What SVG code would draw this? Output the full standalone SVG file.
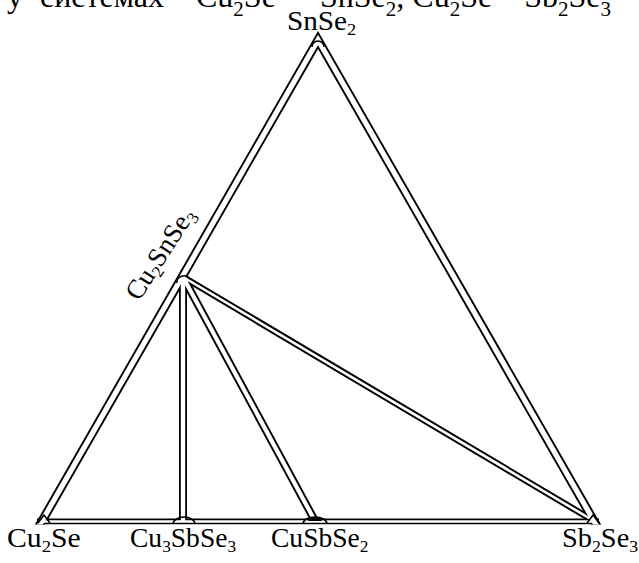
<svg xmlns="http://www.w3.org/2000/svg" width="639" height="563" viewBox="0 0 639 563">
<style>
.o{stroke:#000;fill:none;stroke-linecap:butt;stroke-linejoin:miter}
.i{stroke:#fff;fill:none;stroke-linecap:butt;stroke-linejoin:miter}
.m{stroke:#000;stroke-width:1.6;fill:none}
text{font-family:"Liberation Serif","Times New Roman",serif;fill:#000;font-size:27px}
.s{font-size:17px}
.t{font-size:32px}
.ts{font-size:21px}
</style>
<defs>
<clipPath id="c"><rect x="0" y="0" width="639" height="524.5"/></clipPath>
</defs>
<rect width="639" height="563" fill="#fff"/>
<text class="t" y="7"><tspan x="7">у</tspan><tspan x="40">системах</tspan><tspan x="196">Cu</tspan><tspan class="ts" dy="9">2</tspan><tspan dy="-9">Se – </tspan><tspan x="320">SnSe</tspan><tspan class="ts" dy="9">2</tspan><tspan dy="-9">, Cu</tspan><tspan class="ts" dy="9">2</tspan><tspan dy="-9">Se – Sb</tspan><tspan class="ts" dy="9">2</tspan><tspan dy="-9">Se</tspan><tspan class="ts" dy="9">3</tspan></text>
<g id="connectors" clip-path="url(#c)">
<path class="o" d="M36.3,531 L318,40 L599.7,531" stroke-width="9"/>
<line class="o" x1="37" y1="521.5" x2="599" y2="521.5" stroke-width="6"/>
<line class="o" x1="183" y1="277" x2="183" y2="521" stroke-width="8"/>
<line class="o" x1="183" y1="277" x2="315" y2="521" stroke-width="8"/>
<line class="o" x1="183" y1="277" x2="594" y2="521" stroke-width="6.5"/>
<path class="i" d="M36.3,531 L318,40 L599.7,531" stroke-width="5.2"/>
<line class="i" x1="44" y1="521.5" x2="592" y2="521.5" stroke-width="2.4"/>
<line class="i" x1="183" y1="277" x2="183" y2="521" stroke-width="4.4"/>
<line class="i" x1="183" y1="277" x2="315" y2="521" stroke-width="4.2"/>
<line class="i" x1="183" y1="277" x2="594" y2="521" stroke-width="2.6"/>
</g>
<g id="n-snse2">
<path class="m" d="M312,47 A6,6 0 0 1 324,47"/>
<text transform="matrix(1.08,0,0,1,287,30)">SnSe<tspan class="s" dy="5">2</tspan></text>
</g>
<g id="n-cu2snse3">
<path class="m" d="M177,283 A7,6 0 0 1 190,279"/>
<text transform="translate(139,302) rotate(-57)">Cu<tspan class="s" dy="5">2</tspan><tspan dy="-5">SnSe</tspan><tspan class="s" dy="5">3</tspan></text>
</g>
<g id="n-cu2se">
<path class="m" d="M38,523 L44,515 L50,523"/>
<text transform="matrix(1.1,0,0,1,7,547)">Cu<tspan class="s" dy="5">2</tspan><tspan dy="-5">Se</tspan></text>
</g>
<g id="n-cu3sbse3">
<path class="m" d="M173,524 A11,7 0 0 1 195,524"/>
<text transform="matrix(1.02,0,0,1,130,547)">Cu<tspan class="s" dy="5">3</tspan><tspan dy="-5">SbSe</tspan><tspan class="s" dy="5">3</tspan></text>
</g>
<g id="n-cusbse2">
<path class="m" d="M303,524 A12,7 0 0 1 327,524"/>
<path d="M308,521 L322,521 L320,517 L310,517 Z" fill="#000"/>
<text transform="matrix(1.02,0,0,1,271,547)">CuSbSe<tspan class="s" dy="5">2</tspan></text>
</g>
<g id="n-sb2se3">
<path class="m" d="M587,523 L593,515 L599,523"/>
<text transform="matrix(1.05,0,0,1,562,547)">Sb<tspan class="s" dy="5">2</tspan><tspan dy="-5">Se</tspan><tspan class="s" dy="5">3</tspan></text>
</g>
</svg>
